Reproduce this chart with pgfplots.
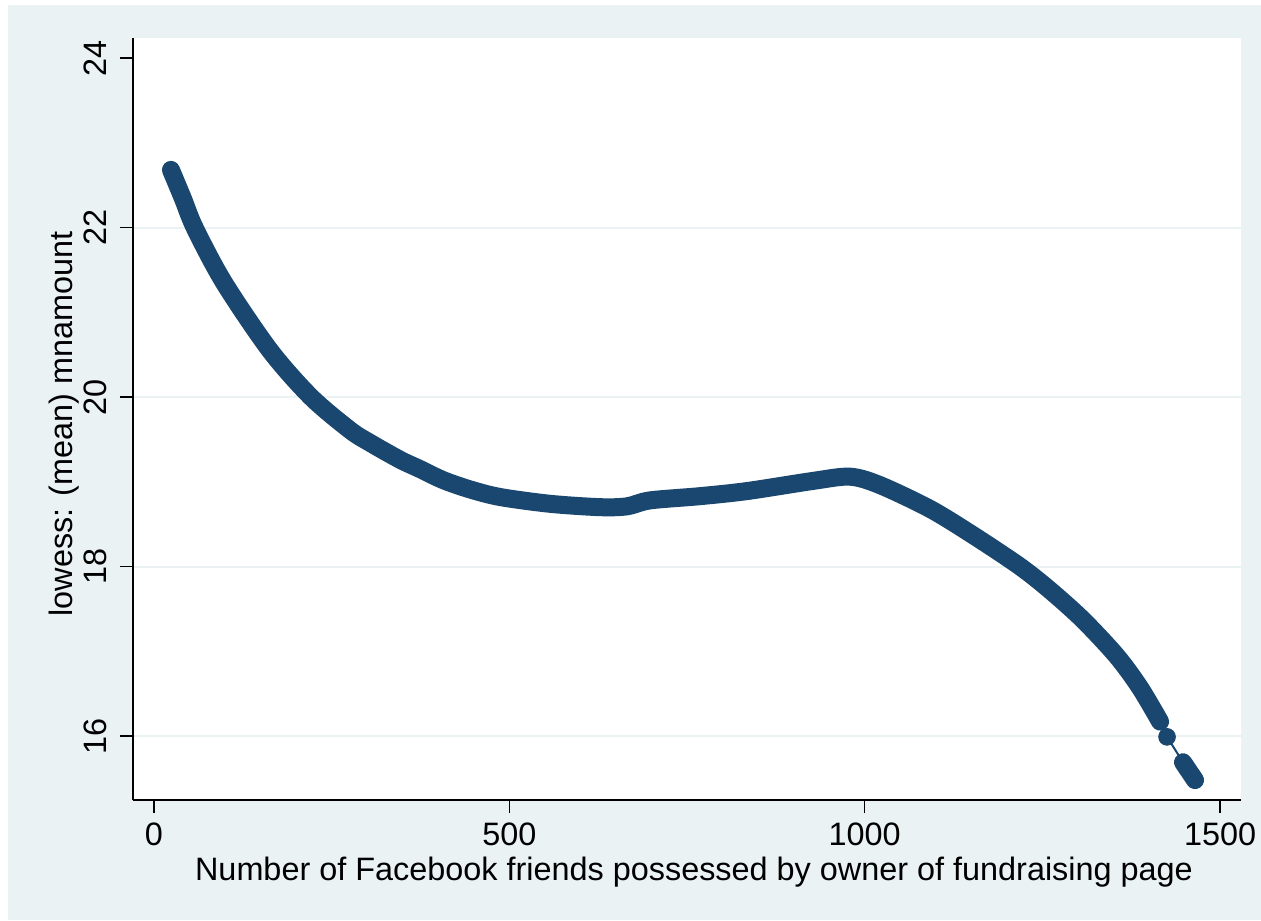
\documentclass[border=0pt]{standalone}
\usepackage{fontspec}
\setmainfont{Liberation Sans}
\usepackage{pgfplots}
\usepackage{pgfplotstable}
\pgfplotsset{compat=1.18}

\definecolor{stbg}{RGB}{234,242,243}
\definecolor{stnavy}{RGB}{26,71,111}

% lowess-smoothed mean amount against number of Facebook friends
\pgfplotstableread{
x y
23.9 22.68
40.8 22.34
57.7 21.99
98.5 21.35
163.2 20.55
220.9 20.00
275.8 19.61
303.9 19.46
346.2 19.26
374.3 19.15
406.7 19.02
444.6 18.91
486.9 18.82
557.2 18.74
627.6 18.70
665.6 18.71
697.9 18.78
768.3 18.83
834.4 18.89
927.3 19.01
979.4 19.06
1021.6 18.96
1091.9 18.68
1152.4 18.37
1218.6 18.00
1260.8 17.72
1307.2 17.37
1355.0 16.94
1387.4 16.57
1415.6 16.17
nan nan
1425.4 15.99
nan nan
1447.9 15.69
1464.8 15.48
}\lowesscurve

\newcommand{\chartfont}{\fontsize{16.2}{19.5}\selectfont}

\begin{document}
\begin{tikzpicture}
\path[use as bounding box] (0,0) rectangle (630.5pt,460pt);
\fill[white] (0,0) rectangle (630.5pt,460pt);
\fill[stbg] (4pt,0) rectangle (630.5pt,457.5pt);
\fill[white] (66.5pt,60pt) rectangle (620.5pt,441pt);
\begin{axis}[
  at={(66.5pt,60pt)}, anchor=south west,
  scale only axis, width=554pt, height=381pt,
  xmin=-29.5, xmax=1529.5, ymin=15.245, ymax=24.236,
  axis x line*=bottom, axis y line*=left,
  axis line style={black, line width=0.6pt, -},
  xtick={0,500,1000,1500},
  ytick={16,18,20,22}, extra y ticks={24}, extra y tick style={grid=none},
  ymajorgrids, grid style={stbg, line width=1pt},
  tick align=outside, major tick length=6.5pt,
  tick style={black, line width=0.6pt},
  /pgf/number format/1000 sep={},
  /pgf/number format/assume math mode=true,
  tick label style={font=\chartfont},
  xticklabel style={anchor=base, inner sep=0pt, yshift=-16pt},
  yticklabel style={xshift=-6.5pt, rotate=90, anchor=base, inner sep=0pt},
  every axis x label/.style={at={(axis description cs:0.5063,-0.105)}, anchor=base, font=\chartfont},
  every axis y label/.style={at={(axis description cs:-0.05505,0.4934)}, anchor=base, rotate=90, font=\chartfont},
  xlabel={Number of Facebook friends possessed by owner of fundraising page},
  ylabel={lowess: (mean) mnamount},
]
\addplot[stnavy, line width=1pt, unbounded coords=discard] table {\lowesscurve};
\addplot[stnavy, line width=9pt, line cap=round, line join=round, smooth, unbounded coords=jump] table {\lowesscurve};
\addplot[only marks, mark=*, mark size=4.2pt, mark options={draw=stnavy, fill=stnavy}] coordinates {(1425.4,15.99)};
\end{axis}
\end{tikzpicture}
\end{document}
